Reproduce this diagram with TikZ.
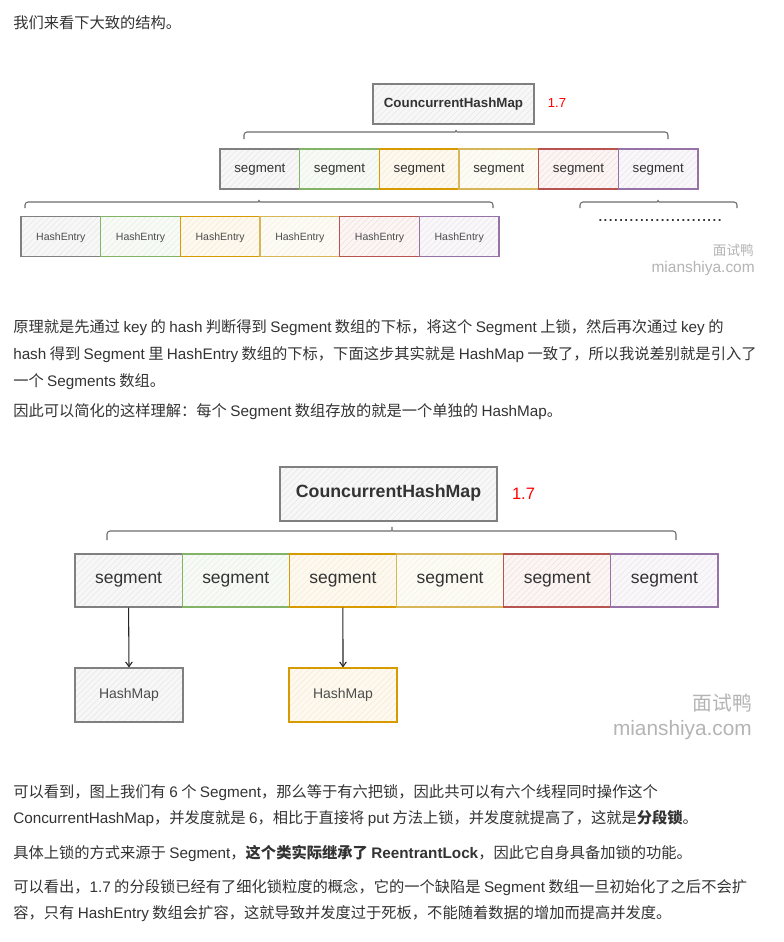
\documentclass[tikz,border=0pt]{standalone}
\usepackage{fontspec}
\setmainfont{Noto Sans CJK SC}
\newfontfamily\enfont{Liberation Sans}
\usetikzlibrary{patterns.meta,arrows.meta,calc}
\newcommand\enw[1]{{\enfont #1}}
\newdimen\px \px=0.75pt
\newcommand\fsz[1]{\fontsize{#1}{#1}\selectfont}
\definecolor{txt}{HTML}{333333}
\definecolor{cgray}{HTML}{808080}
\definecolor{cgreen}{HTML}{82B366}
\definecolor{corange}{HTML}{D79B00}
\definecolor{cyellow}{HTML}{D6B656}
\definecolor{cred}{HTML}{B85450}
\definecolor{cpurple}{HTML}{9673A6}
\definecolor{wm}{HTML}{B4B4B4}
\tikzset{
  hatchbox/.style={draw=#1, line width=0.8, inner sep=0,
    text height=0.72em, text depth=0.21em,
    preaction={fill=#1!6!white},
    pattern={Lines[angle=45,distance=3.2pt,line width=0.35pt]},
    pattern color=#1!20!white},
  bodyline/.style={anchor=base west, inner sep=0, text=txt, font=\fsz{11.45}},
  bracepath/.style={draw=cgray!85!black, line width=0.8, rounded corners=3\px},
  wmark/.style={anchor=east, inner sep=0, text=wm},
  lbl/.style={text=txt},
  arr/.style={draw=black!85, line width=0.8, -{Straight Barb[length=3.5pt,width=5pt]}}
}
\begin{document}
\begin{tikzpicture}[x=0.75pt,y=-0.75pt]
\useasboundingbox[fill=white] (0,0) rectangle (783,942);

% intro line
\node[bodyline] (intro) at (13,28.5) {我们来看下大致的结构。};

% ---------- Diagram 1 ----------
\node[hatchbox=cgray, minimum width=161\px, minimum height=40\px,
      font=\enfont\bfseries\fsz{10}, text=txt] (chm1) at (453.5,104) {CouncurrentHashMap};
\node[inner sep=0, text=red, font=\enfont\fsz{9.8}] (ver1) at (557,103) {1.7};

\foreach \c [count=\i from 0] in {cgray,cgreen,corange,cyellow,cred,cpurple}{
  \node[hatchbox=\c, minimum width=79.67\px, minimum height=40\px,
        font=\enfont\fsz{10}, lbl] (sg\i) at ({220+79.67*\i+39.83},169) {segment};
  \node[hatchbox=\c, minimum width=79.67\px, minimum height=40\px,
        font=\enfont\fsz{7.9}, text=black!70] (he\i) at ({21+79.67*\i+39.83},236.7) {HashEntry};
}

% braces diagram 1
\draw[bracepath] (244,139) -- (244,132) -- (452,132) .. controls (456,132) .. (456,128)
   .. controls (456,132) .. (460,132) -- (668,132) -- (668,139);
\draw[bracepath] (25,208) -- (25,202) -- (255,202) .. controls (259,202) .. (259,198)
   .. controls (259,202) .. (263,202) -- (493,202) -- (493,208);
\draw[bracepath] (580,208) -- (580,202) -- (654,202) .. controls (658,202) .. (658,198)
   .. controls (658,202) .. (662,202) -- (737,202) -- (737,208);

\node[anchor=base, inner sep=0, text=black!80, font=\enfont\fsz{14}] (dots) at (660,221) {........................};

\node[wmark, font=\fsz{10.2}] (wm1a) at (754,250) {面试鸭};
\node[wmark, font=\enfont\fsz{11.6}] (wm1b) at (755,268) {mianshiya.com};

% paragraph 1
\node[bodyline] (p1a) at (13,332.5) {原理就是先通过 \enw{key} 的 \enw{hash} 判断得到 \enw{Segment} 数组的下标，将这个 \enw{Segment} 上锁，然后再次通过 \enw{key} 的};
\node[bodyline] (p1b) at (13,359.5) {\enw{hash} 得到 \enw{Segment} 里 \enw{HashEntry} 数组的下标，下面这步其实就是 \enw{HashMap} 一致了，所以我说差别就是引入了};
\node[bodyline] (p1c) at (13,386.5) {一个 \enw{Segments} 数组。};
\node[bodyline] (p1d) at (13,416.5) {因此可以简化的这样理解：每个 \enw{Segment} 数组存放的就是一个单独的 \enw{HashMap}。};

% ---------- Diagram 2 ----------
\node[hatchbox=cgray, minimum width=217\px, minimum height=54\px,
      font=\enfont\bfseries\fsz{13.3}, text=txt] (chm2) at (388.5,494) {CouncurrentHashMap};
\node[inner sep=0, text=red, font=\enfont\fsz{12.4}] (ver2) at (523.5,494) {1.7};

\foreach \c [count=\i from 0] in {cgray,cgreen,corange,cyellow,cred,cpurple}{
  \node[hatchbox=\c, minimum width=107.17\px, minimum height=53\px,
        font=\enfont\fsz{13.1}, lbl] (sb\i) at ({75+107.17*\i+53.58},580.5) {segment};
}
\draw[bracepath] (107,540) -- (107,531) -- (388,531) .. controls (392,531) .. (392,525)
   .. controls (392,531) .. (396,531) -- (676,531) -- (676,540);

\node[hatchbox=cgray, minimum width=108\px, minimum height=54\px,
      font=\enfont\fsz{10.5}, text=black!70] (hm1) at (129,695) {HashMap};
\node[hatchbox=corange, minimum width=108\px, minimum height=54\px,
      font=\enfont\fsz{10.5}, text=black!70] (hm2) at (343,695) {HashMap};
\draw[arr] (sb0.south) -- (hm1.north);
\draw[arr] (sb2.south) -- (hm2.north);

\node[wmark, font=\fsz{14.8}] (wm2a) at (752,703) {面试鸭};
\node[wmark, font=\enfont\fsz{15.6}] (wm2b) at (752,730) {mianshiya.com};

% paragraph 2
\node[bodyline] (p2a) at (13,797.5) {可以看到，图上我们有 \enw{6} 个 \enw{Segment}，那么等于有六把锁，因此共可以有六个线程同时操作这个};
\node[bodyline] (p2b) at (13,823.5) {\enw{ConcurrentHashMap}，并发度就是 \enw{6}，相比于直接将 \enw{put} 方法上锁，并发度就提高了，这就是\textbf{分段锁}。};
\node[bodyline] (p2c) at (13,858.5) {具体上锁的方式来源于 \enw{Segment}，\textbf{这个类实际继承了 \enw{ReentrantLock}}，因此它自身具备加锁的功能。};
\node[bodyline] (p2d) at (13,892.5) {可以看出，\enw{1.7} 的分段锁已经有了细化锁粒度的概念，它的一个缺陷是 \enw{Segment} 数组一旦初始化了之后不会扩};
\node[bodyline] (p2e) at (13,918.5) {容，只有 \enw{HashEntry} 数组会扩容，这就导致并发度过于死板，不能随着数据的增加而提高并发度。};
\end{tikzpicture}
\end{document}
